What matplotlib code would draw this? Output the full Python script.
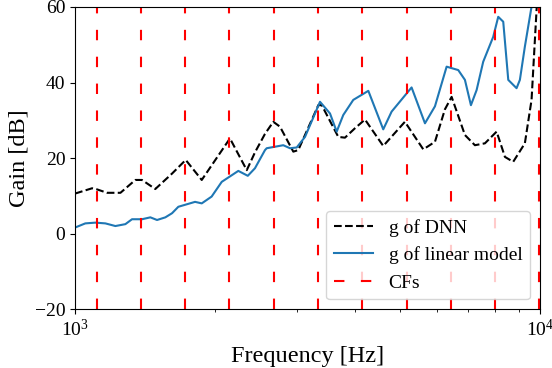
import numpy as np
import matplotlib
matplotlib.use("Agg")
import matplotlib.pyplot as plt
from matplotlib.ticker import NullFormatter

plt.rcParams['font.family'] = ['Liberation Serif', 'DejaVu Serif']
plt.rcParams['mathtext.fontset'] = 'stix'

# centre frequencies of the filters (Hz)
cf_freqs = [1114, 1387, 1726, 2149, 2676, 3332, 4148, 5166, 6431, 8008, 9970]

# gain of the DNN
dnn_freq = [1000, 1088, 1115, 1172, 1252, 1348, 1393, 1488, 1617, 1730, 1873,
            2154, 2341, 2438, 2562, 2670, 2760, 2948, 3021, 3337, 3394, 3684,
            3808, 4002, 4205, 4603, 5124, 5613, 5947, 6248, 6459, 6899, 7249,
            7617, 8072, 8412, 8763, 9284, 9597, 9838, 10000]
dnn_gain = [10.6, 12.0, 11.7, 10.8, 10.8, 14.2, 14.2, 11.8, 15.9, 19.5, 14.2,
            25.2, 16.8, 21.5, 26.4, 29.6, 28.3, 21.7, 22.1, 34.0, 34.0, 25.6,
            25.4, 27.9, 30.2, 23.2, 29.6, 22.3, 24.3, 32.9, 36.2, 26.1, 23.4,
            23.9, 27.0, 20.3, 19.0, 23.9, 35.4, 59.2, 75.0]

# gain of the linear model
lin_freq = [1000, 1052, 1106, 1162, 1221, 1283, 1326, 1393, 1452, 1501, 1564,
            1617, 1668, 1812, 1873, 1967, 2068, 2245, 2353, 2438, 2562, 2584,
            2805, 2900, 2998, 3124, 3365, 3536, 3655, 3776, 3968, 4275, 4603,
            4798, 5297, 5660, 5947, 6301, 6674, 6899, 7107, 7310, 7553, 7937,
            8137, 8341, 8551, 8910, 9058, 9284, 9597, 9838]
lin_gain = [1.6, 2.7, 2.9, 2.7, 2.0, 2.5, 3.8, 3.8, 4.3, 3.6, 4.3,
            5.4, 7.1, 8.4, 8.0, 9.8, 13.7, 16.6, 15.3, 17.3, 22.1, 22.6,
            23.4, 22.6, 22.8, 25.6, 34.9, 31.8, 27.0, 31.4, 35.4, 37.8, 27.6,
            32.3, 38.7, 29.2, 33.7, 44.2, 43.3, 40.7, 34.0, 38.0, 45.5, 52.1,
            57.4, 56.1, 40.7, 38.5, 40.7, 49.5, 60.1, 75.0]

fig, ax = plt.subplots(figsize=(5.52, 3.68), dpi=100)
fig.subplots_adjust(left=0.136, right=0.978, top=0.981, bottom=0.160)

ax.plot(dnn_freq, dnn_gain, 'k--', lw=1.5, label='g of DNN')
ax.plot(lin_freq, lin_gain, color='#1f77b4', lw=1.5, label='g of linear model')
for i, cf in enumerate(cf_freqs):
    ax.axvline(cf, color='r', lw=1.5, linestyle=(0, (5.0, 7.9)),
               label='CFs' if i == 0 else None)

ax.set_xscale('log')
ax.set_xlim(1000, 10000)
ax.set_ylim(-20, 60)
ax.set_yticks([-20, 0, 20, 40, 60])
ax.xaxis.set_minor_formatter(NullFormatter())
ax.tick_params(labelsize=14)
ax.set_xlabel('Frequency [Hz]', fontsize=17.5)
ax.set_ylabel('Gain [dB]', fontsize=17.5)
ax.legend(loc='lower right', fontsize=14)

fig.savefig('out.png', dpi=100)
